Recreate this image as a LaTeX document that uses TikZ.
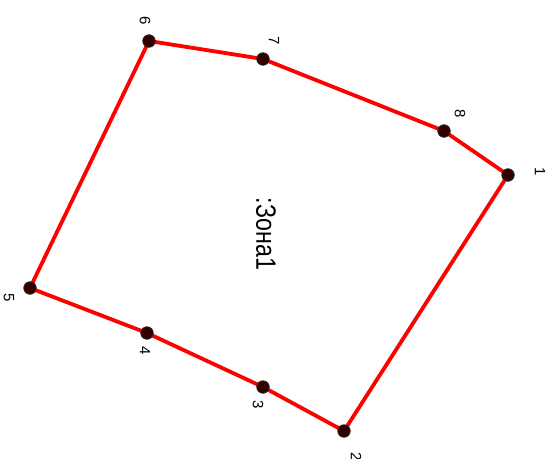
\documentclass[tikz,border=0pt]{standalone}
\usepackage{fontspec}
\setmainfont{Liberation Sans}
\usetikzlibrary{calc}

\begin{document}
\begin{tikzpicture}[x=1pt, y=-1pt,
  edge/.style={red, line width=3.8pt, line join=round},
  vert/.style={circle, draw=black!85, fill=black!80!red, inner sep=0pt, minimum size=12.5pt, line width=0.8pt},
  num/.style={rotate=-90, font=\fontsize{15}{15}\selectfont, inner sep=0pt},
  zone/.style={rotate=-90, xscale=0.83, font=\fontsize{28}{28}\selectfont}]
  \useasboundingbox (0,0) rectangle (556,458);
  % corner points of the zone
  \coordinate (p1) at (508,175);
  \coordinate (p2) at (344,431);
  \coordinate (p3) at (263,387);
  \coordinate (p4) at (147,333);
  \coordinate (p5) at (30,288);
  \coordinate (p6) at (149,41);
  \coordinate (p7) at (263,59);
  \coordinate (p8) at (444,131);
  \draw[edge] (p1) -- (p2) -- (p3) -- (p4) -- (p5) -- (p6) -- (p7) -- (p8) -- cycle;
  \foreach \i in {1,...,8}
    \node[vert] (v\i) at (p\i) {};
  % numbers
  \node[num] (n1) at ($(p1)+(32,-3)$) {1};
  \node[num] (n2) at ($(p2)+(12,26)$) {2};
  \node[num] (n3) at ($(p3)+(-5,18)$) {3};
  \node[num] (n4) at ($(p4)+(-2,18)$) {4};
  \node[num] (n5) at ($(p5)+(-21,10)$) {5};
  \node[num] (n6) at ($(p6)+(-4,-20)$) {6};
  \node[num] (n7) at ($(p7)+(11,-18)$) {7};
  \node[num] (n8) at ($(p8)+(16,-17)$) {8};
  \node[zone] (zname) at (266,234) {:Зона1};
\end{tikzpicture}
\end{document}
